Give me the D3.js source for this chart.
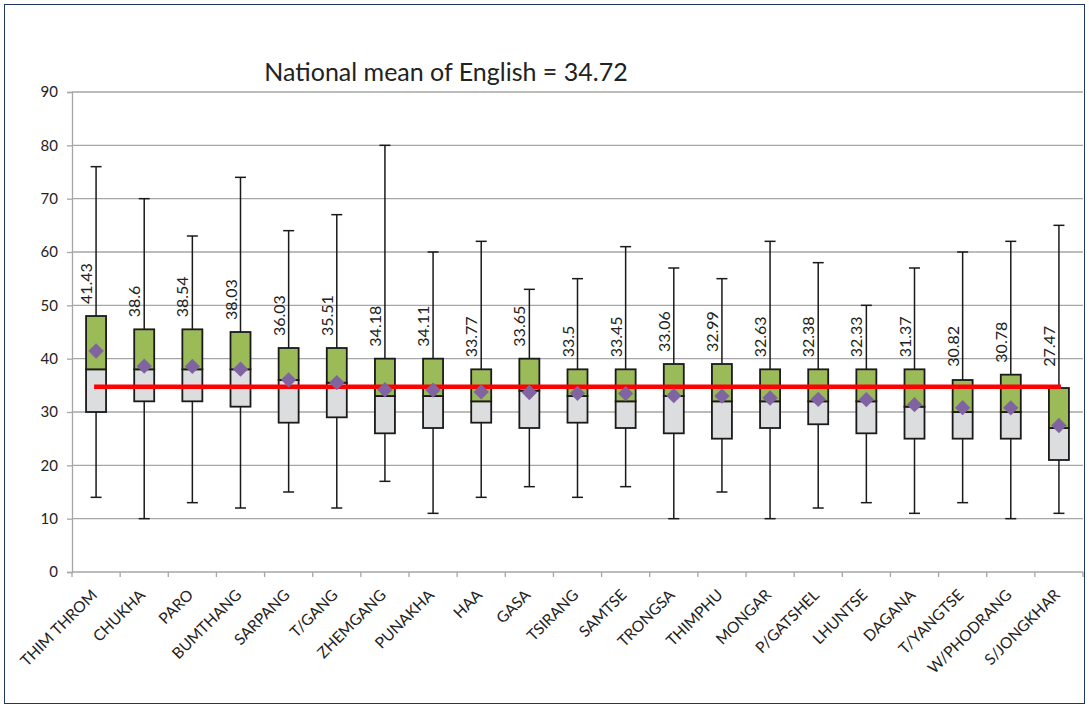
<!DOCTYPE html>
<html>
<head>
<meta charset="utf-8">
<script src="https://cdn.jsdelivr.net/npm/d3@7"></script>
<style>
  body { margin: 0; background: #fff; }
  svg text { font-family: Lato, "Open Sans", sans-serif; fill: #222; }
</style>
</head>
<body>
<div id="chart"></div>
<script>
// districts, in the order shown
var districts = ["THIM THROM", "CHUKHA", "PARO", "BUMTHANG", "SARPANG", "T/GANG", "ZHEMGANG",
  "PUNAKHA", "HAA", "GASA", "TSIRANG", "SAMTSE", "TRONGSA", "THIMPHU", "MONGAR",
  "P/GATSHEL", "LHUNTSE", "DAGANA", "T/YANGTSE", "W/PHODRANG", "S/JONGKHAR"];
var maxScore = [76, 70, 63, 74, 64, 67, 80, 60, 62, 53, 55, 61, 57, 55, 62, 58, 50, 57, 60, 62, 65];
var q3 = [48, 45.5, 45.5, 45, 42, 42, 40, 40, 38, 40, 38, 38, 39, 39, 38, 38, 38, 38, 36, 37, 34.5];
var median = [38, 38, 38, 38, 36, 35.5, 33, 33, 32, 34, 33, 32, 33, 32, 32, 32, 32, 31, 30, 30, 27];
var q1 = [30, 32, 32, 31, 28, 29, 26, 27, 28, 27, 28, 27, 26, 25, 27, 27.7, 26, 25, 25, 25, 21];
var minScore = [14, 10, 13, 12, 15, 12, 17, 11, 14, 16, 14, 16, 10, 15, 10, 12, 13, 11, 13, 10, 11];
var meanScore = [41.43, 38.6, 38.54, 38.03, 36.03, 35.51, 34.18, 34.11, 33.77, 33.65, 33.5, 33.45,
  33.06, 32.99, 32.63, 32.38, 32.33, 31.37, 30.82, 30.78, 27.47];
var nationalMean = 34.72;
var yTicks = [0, 10, 20, 30, 40, 50, 60, 70, 80, 90];

var W = 1089, H = 708;
var plotLeft = 72, plotRight = 1083, plotTop = 92, plotBottom = 572;

var svg = d3.select("#chart").append("svg")
    .attr("width", W)
    .attr("height", H);

svg.append("rect")
    .attr("x", 4.5).attr("y", 4.5)
    .attr("width", W - 9).attr("height", H - 9)
    .attr("fill", "#fff")
    .attr("stroke", "#1f3864")
    .attr("stroke-width", 1);

var x = d3.scaleBand().domain(districts).range([plotLeft, plotRight]);
var y = d3.scaleLinear().domain([0, 90]).range([plotBottom, plotTop]);

// gridlines
svg.append("g").selectAll("line")
    .data(yTicks.filter(function(d) { return d > 0; }))
    .enter().append("line")
    .attr("x1", plotLeft).attr("x2", plotRight)
    .attr("y1", function(d) { return y(d); })
    .attr("y2", function(d) { return y(d); })
    .attr("stroke", "#a6a6a6")
    .attr("stroke-width", 1.3);

// y axis
var yAxis = svg.append("g")
    .attr("transform", "translate(" + plotLeft + ",0)")
    .call(d3.axisLeft(y).tickValues(yTicks).tickSize(5).tickPadding(9));
yAxis.select(".domain").attr("stroke", "#a6a6a6").attr("stroke-width", 1.3);
yAxis.selectAll(".tick line").attr("stroke", "#a6a6a6").attr("stroke-width", 1.3);
yAxis.selectAll("text").style("font-size", "15px").attr("fill", "#222");

// x axis, ticks between categories
var xAxis = svg.append("g").attr("transform", "translate(0," + plotBottom + ")");
xAxis.append("line")
    .attr("x1", plotLeft).attr("x2", plotRight)
    .attr("stroke", "#a6a6a6").attr("stroke-width", 1.3);
xAxis.selectAll(".tk")
    .data(districts.concat(["end"]))
    .enter().append("line")
    .attr("class", "tk")
    .attr("x1", function(d, i) { return plotLeft + i * x.bandwidth(); })
    .attr("x2", function(d, i) { return plotLeft + i * x.bandwidth(); })
    .attr("y1", 0).attr("y2", 5)
    .attr("stroke", "#a6a6a6").attr("stroke-width", 1.3);
xAxis.selectAll("text")
    .data(districts)
    .enter().append("text")
    .attr("transform", function(d) {
        return "translate(" + (x(d) + x.bandwidth() / 2 + 2) + ",24) rotate(-45)";
    })
    .attr("text-anchor", "end")
    .style("font-size", "15.5px")
    .text(function(d) { return d; });

var cx = function(i) { return x(districts[i]) + x.bandwidth() / 2; };
var boxW = 20, capW = 11;

var boxes = svg.append("g").selectAll(".box")
    .data(districts)
    .enter().append("g")
    .attr("class", "box");

// whiskers
boxes.append("line")
    .attr("x1", function(d, i) { return cx(i); })
    .attr("x2", function(d, i) { return cx(i); })
    .attr("y1", function(d, i) { return y(maxScore[i]); })
    .attr("y2", function(d, i) { return y(minScore[i]); })
    .attr("stroke", "#1a1a1a").attr("stroke-width", 1.5);
boxes.append("line")
    .attr("x1", function(d, i) { return cx(i) - capW / 2; })
    .attr("x2", function(d, i) { return cx(i) + capW / 2; })
    .attr("y1", function(d, i) { return y(maxScore[i]); })
    .attr("y2", function(d, i) { return y(maxScore[i]); })
    .attr("stroke", "#1a1a1a").attr("stroke-width", 1.5);
boxes.append("line")
    .attr("x1", function(d, i) { return cx(i) - capW / 2; })
    .attr("x2", function(d, i) { return cx(i) + capW / 2; })
    .attr("y1", function(d, i) { return y(minScore[i]); })
    .attr("y2", function(d, i) { return y(minScore[i]); })
    .attr("stroke", "#1a1a1a").attr("stroke-width", 1.5);

// lower box (q1 -> median) grey, upper box (median -> q3) green
boxes.append("rect")
    .attr("x", function(d, i) { return cx(i) - boxW / 2; })
    .attr("width", boxW)
    .attr("y", function(d, i) { return y(median[i]); })
    .attr("height", function(d, i) { return y(q1[i]) - y(median[i]); })
    .attr("fill", "#dcddde")
    .attr("stroke", "#1a1a1a").attr("stroke-width", 1.8);
boxes.append("rect")
    .attr("x", function(d, i) { return cx(i) - boxW / 2; })
    .attr("width", boxW)
    .attr("y", function(d, i) { return y(q3[i]); })
    .attr("height", function(d, i) { return y(median[i]) - y(q3[i]); })
    .attr("fill", "#9bbb59")
    .attr("stroke", "#1a1a1a").attr("stroke-width", 1.8);

// national mean line
svg.append("line")
    .attr("x1", cx(0) - 2).attr("x2", cx(districts.length - 1) + 2)
    .attr("y1", y(nationalMean)).attr("y2", y(nationalMean))
    .attr("stroke", "#ff0000").attr("stroke-width", 4.5);

// mean diamonds
svg.append("g").selectAll("path")
    .data(meanScore)
    .enter().append("path")
    .attr("d", d3.symbol().type(d3.symbolDiamond2).size(150))
    .attr("transform", function(d, i) { return "translate(" + cx(i) + "," + y(d) + ")"; })
    .attr("fill", "#8064a2");

// mean labels, kept clear of the national mean line
svg.append("g").selectAll("text")
    .data(meanScore)
    .enter().append("text")
    .attr("transform", function(d, i) {
        var base = Math.min(y(q3[i]) - 12, y(nationalMean) - 20);
        return "translate(" + (cx(i) - 4) + "," + base + ") rotate(-90)";
    })
    .style("font-size", "16px")
    .text(function(d) { return d; });

// title
svg.append("text")
    .attr("x", 446).attr("y", 81)
    .attr("text-anchor", "middle")
    .style("font-size", "25px")
    .text("National mean of English = " + nationalMean);
</script>
</body>
</html>
